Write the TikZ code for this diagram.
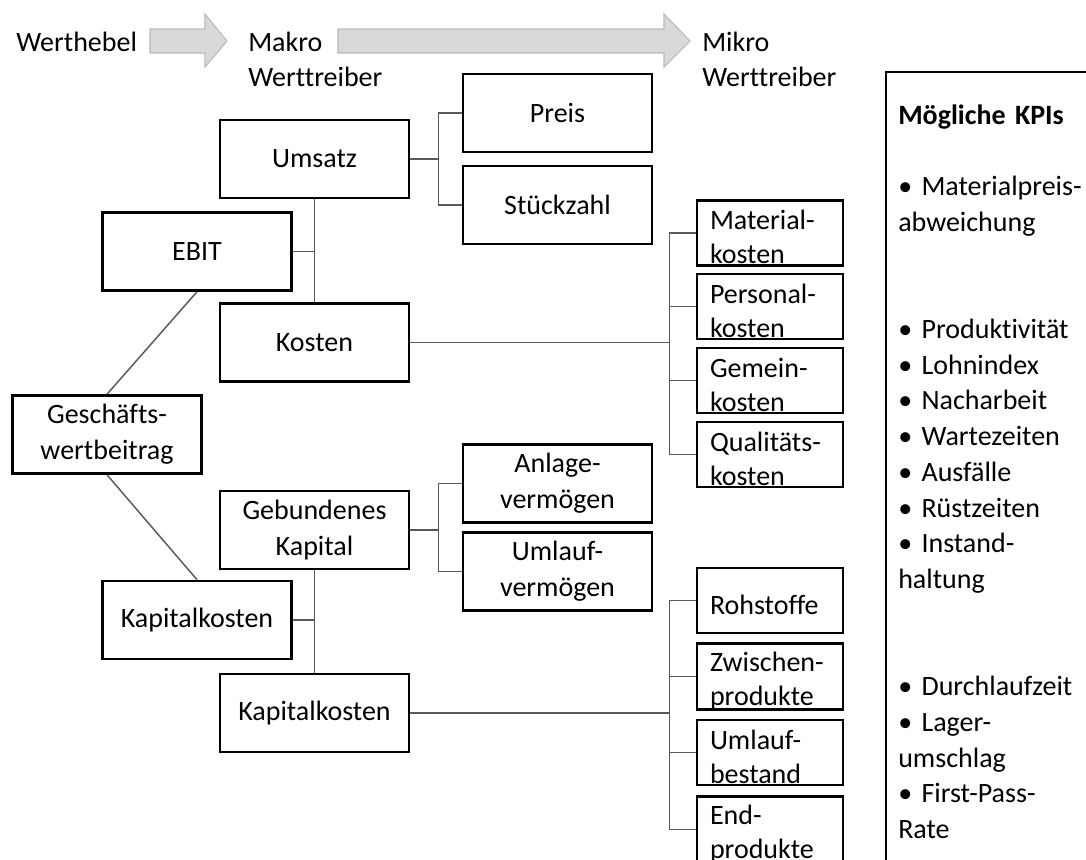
\documentclass[tikz,border=0pt]{standalone}
\usepackage{fontspec}
\setmainfont[Ligatures=NoCommon]{Carlito}

\begin{document}
\begin{tikzpicture}[x=0.75pt, y=-0.75pt,
    every node/.style={font=\fontsize{21pt}{26.8pt}\selectfont},
    box/.style={draw, line width=1.9pt, minimum width=141.75pt, minimum height=58.5pt, align=center, inner sep=2pt},
    mikro/.style={draw, line width=1.9pt, minimum width=109.5pt, minimum height=48.5pt, text width=90pt, align=left, inner sep=0pt, font=\fontsize{21pt}{25.5pt}\selectfont, execute at begin node={\rule{0pt}{21pt}}},
    label/.style={anchor=base west, inner sep=0pt, text width=150pt, align=left},
    link/.style={black!65, line width=1.1pt},
    pfeil/.style={fill=black!15, draw=black!27, line width=0.8pt}]
        \clip (0,0) rectangle (1086,860);

        % Ebenen oben
        \node[label] (werthebel) at (16,51) {Werthebel};
        \node[label] (makro) at (248,51) {Makro\\Werttreiber};
        \node[label] (mikro) at (702,51) {Mikro\\Werttreiber};
        \fill[pfeil] (150,29) -- (205,29) -- (205,14) -- (227,41) -- (205,67) -- (205,53) -- (150,53) -- cycle;
        \fill[pfeil] (338,29) -- (664,29) -- (664,14) -- (690,41) -- (664,67) -- (664,53) -- (338,53) -- cycle;

        % Werthebel und Makro-Werttreiber
        \node[box] (gwb) at (107,434.5) {Geschäfts-\\wertbeitrag};
        \node[box] (ebit) at (197,251.5) {EBIT};
        \node[box] (kapk) at (197,620) {Kapitalkosten};
        \node[box] (umsatz) at (314.5,159) {Umsatz};
        \node[box] (kosten) at (314.5,342.5) {Kosten};
        \node[box] (gebkap) at (314.5,530) {Gebundenes\\Kapital};
        \node[box] (kapk2) at (314.5,713) {Kapitalkosten};

        \node[box] (preis) at (557.5,113) {Preis};
        \node[box] (stueck) at (557.5,205) {Stückzahl};
        \node[box] (anlage) at (557.5,483.5) {Anlage-\\vermögen};
        \node[box] (umlauf) at (557.5,571.5) {Umlauf-\\vermögen};

        % Mikro-Werttreiber
        \node[mikro] (mat) at (770,233) {Material-\\kosten};
        \node[mikro] (pers) at (770,306.5) {Personal-\\kosten};
        \node[mikro] (gem) at (770,380.5) {Gemein-\\kosten};
        \node[mikro] (qual) at (770,454.5) {Qualitäts-\\kosten};
        \node[mikro] (roh) at (770,600.5) {Rohstoffe};
        \node[mikro] (zw) at (770,676.5) {Zwischen-\\produkte};
        \node[mikro] (uml) at (770,752.5) {Umlauf-\\bestand};
        \node[mikro] (endp) at (770,829.5) {End-\\produkte};

        % Verbindungen
        \draw[link] (ebit.south) -- (gwb.north);
        \draw[link] (gwb.south) -- (kapk.north);
        \draw[link] (umsatz) -- (kosten);
        \draw[link] (ebit.east) -- (ebit.east -| umsatz.south);
        \draw[link] (gebkap) -- (kapk2);
        \draw[link] (kapk.east) -- (kapk.east -| gebkap.south);

        \draw[link] (umsatz.east) -- ++(28,0) coordinate (ju);
        \draw[link] (preis.west) -| (ju) |- (stueck.west);
        \draw[link] (gebkap.east) -- ++(28,0) coordinate (jg);
        \draw[link] (anlage.west) -| (jg) |- (umlauf.west);

        \draw[link] (mat.west) -- ++(-26,0) coordinate (jk) |- (qual.west);
        \draw[link] (pers.west) -- (pers.west -| jk);
        \draw[link] (gem.west) -- (gem.west -| jk);
        \draw[link] (kosten.east) -- (kosten.east -| jk);

        \draw[link] (roh.west) -- ++(-26,0) coordinate (jr) |- (endp.west);
        \draw[link] (zw.west) -- (zw.west -| jr);
        \draw[link] (uml.west) -- (uml.west -| jr);
        \draw[link] (kapk2.east) -- (kapk2.east -| jr);

        % KPIs
        \draw[line width=1.9pt] (886,72) rectangle (1130,900);
        \node[label] (kpi) at (898,124) {\textbf{Mögliche KPIs}\\[26.8pt]
            • Materialpreis-\\abweichung\\[53.6pt]
            • Produktivität\\• Lohnindex\\• Nacharbeit\\• Wartezeiten\\
            • Ausfälle\\• Rüstzeiten\\• Instand-\\haltung\\[53.6pt]
            • Durchlaufzeit\\• Lager-\\umschlag\\• First-Pass-\\Rate};
\end{tikzpicture}
\end{document}
